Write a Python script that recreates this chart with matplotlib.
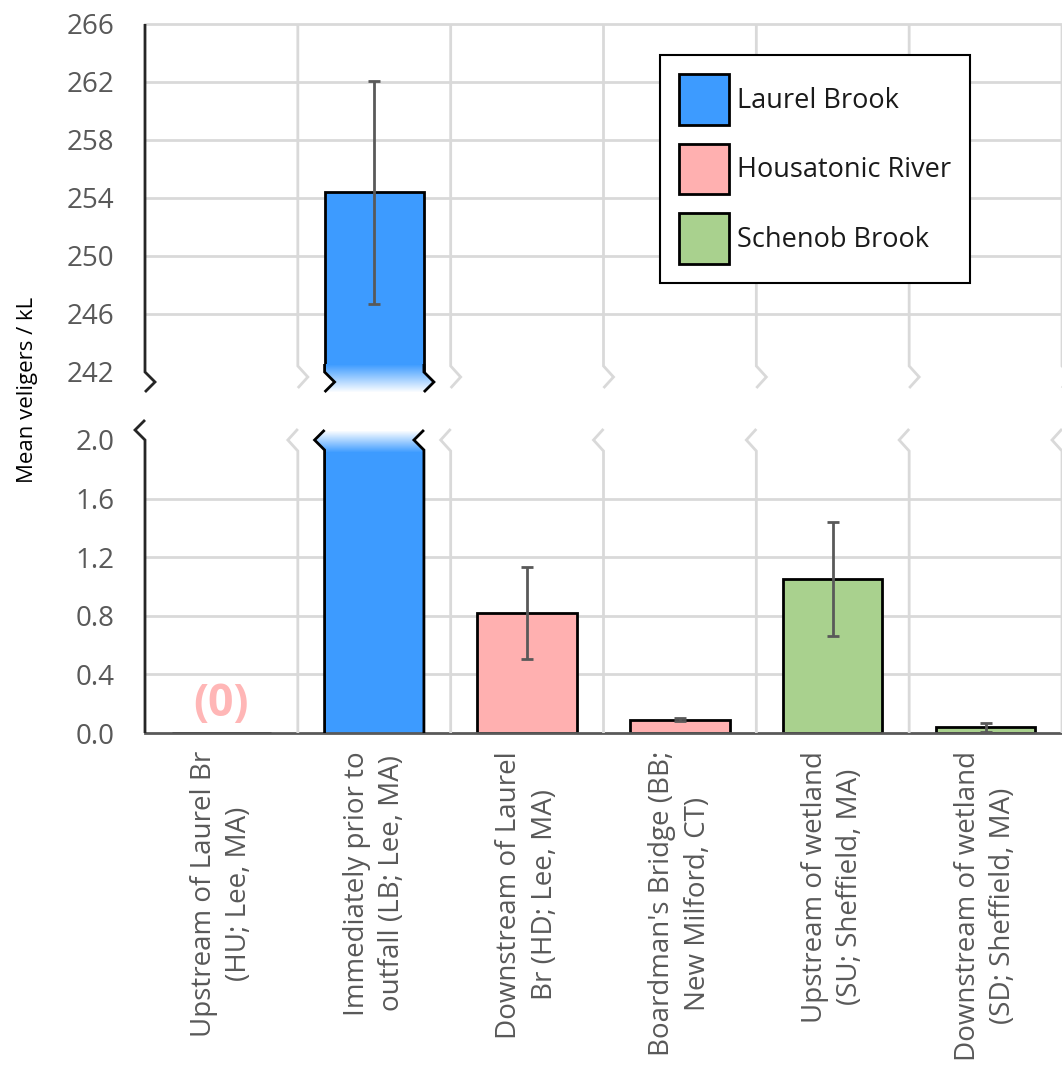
import numpy as np
import matplotlib
matplotlib.use("Agg")
import matplotlib.pyplot as plt
from matplotlib.lines import Line2D
from matplotlib.patches import Patch, Rectangle
from matplotlib.transforms import IdentityTransform
from matplotlib.colors import to_rgb

plt.rcParams['font.family'] = ['Open Sans', 'DejaVu Sans']

# sampling sites, the stream each belongs to, and mean veligers per kL (+/- SE)
sites = ["Upstream of Laurel Br\n(HU; Lee, MA)",
         "Immediately prior to\noutfall (LB; Lee, MA)",
         "Downstream of Laurel\nBr (HD; Lee, MA)",
         "Boardman's Bridge (BB;\nNew Milford, CT)",
         "Upstream of wetland\n(SU; Sheffield, MA)",
         "Downstream of wetland\n(SD; Sheffield, MA)"]
streams = ["Housatonic River", "Laurel Brook", "Housatonic River",
           "Housatonic River", "Schenob Brook", "Schenob Brook"]
means = [0.0, 254.4, 0.82, 0.09, 1.05, 0.04]
errors = [0.0, 7.7, 0.315, 0.01, 0.39, 0.03]

stream_names = ["Laurel Brook", "Housatonic River", "Schenob Brook"]
stream_colors = ["#3d9bff", "#ffb0b0", "#a9d18e"]

upper_ticks = [242, 246, 250, 254, 258, 262, 266]
lower_ticks = [0.0, 0.4, 0.8, 1.2, 1.6, 2.0]

GRID = "#d9d9d9"
TEXT = "#595959"
AXIS = "#262626"
W, H = 1062, 1068

fig = plt.figure(figsize=(W / 100, H / 100), dpi=100)
ax_top = fig.add_axes([145 / W, 1 - 372 / H, (W - 145) / W, 348 / H])
ax_bot = fig.add_axes([145 / W, 1 - 733 / H, (W - 145) / W, 293 / H])

x = np.arange(len(sites))
means = np.array(means)
errors = np.array(errors)
cmap = dict(zip(stream_names, stream_colors))
colors = [cmap[s] for s in streams]
has_err = errors > 0
bar_w = 0.65
broken = means > lower_ticks[-1]

for ax, ticks in ((ax_top, upper_ticks), (ax_bot, lower_ticks)):
    if ax is ax_bot:
        lw = np.where(broken, 0, 2)   # broken bar gets hand-drawn edges
        grid_at = ticks[1:-1]
        fmt = "{:.1f}"
    else:
        lw = 2
        grid_at = ticks[1:]
        fmt = "{:d}"
    ax.bar(x, means, bar_w, color=colors, edgecolor="black", linewidth=lw, zorder=2)
    ax.errorbar(x[has_err], means[has_err], yerr=errors[has_err], fmt="none",
                ecolor=TEXT, elinewidth=2, capsize=4.5, capthick=2, zorder=3)
    for t in grid_at:
        ax.axhline(t, color=GRID, lw=2, zorder=0, clip_on=False)
    ax.set_xlim(-0.5, len(sites) - 0.5)
    ax.set_ylim(ticks[0], ticks[-1])
    ax.set_yticks(ticks, [fmt.format(t) for t in ticks])
    ax.tick_params(axis="y", length=0, pad=22, labelsize=20, labelcolor=TEXT)
    for s in ax.spines.values():
        s.set_visible(False)

ax_top.set_xticks([])
ax_bot.spines["bottom"].set_visible(True)
ax_bot.spines["bottom"].set_color(TEXT)
ax_bot.spines["bottom"].set_linewidth(2)
ax_bot.spines["bottom"].set_zorder(4)
ax_bot.set_xticks(x, sites, rotation=90, ha="center", va="top",
                  multialignment="center", fontsize=20, color=TEXT,
                  linespacing=1.35)
ax_bot.tick_params(axis="x", length=0, pad=13)


def to_display(ax, xv, pts):
    # pts: (data y, dx pixels, dy pixels downward)
    out = []
    for yv, dx, dy in pts:
        px, py = ax.transData.transform((xv, yv))
        out.append((px + dx, py - dy))
    return np.array(out)


def draw_path(ax, xv, pts, color, lw, zorder=3):
    xy = to_display(ax, xv, pts)
    fig.add_artist(Line2D(xy[:, 0], xy[:, 1], transform=IdentityTransform(),
                          color=color, lw=lw, zorder=zorder,
                          solid_joinstyle="miter", solid_capstyle="butt"))


lo_top, hi_top = upper_ticks[0], upper_ticks[-1]
lo_bot, hi_bot = lower_ticks[0], lower_ticks[-1]

# category separators, ending in break marks
for b in np.arange(0.5, len(sites), 1.0):
    draw_path(ax_top, b, [(hi_top, 0, 0), (lo_top, 0, -6), (lo_top, 10, 5), (lo_top, 0, 16)],
              GRID, 2, zorder=1)
    draw_path(ax_bot, b, [(lo_bot, 0, 0), (hi_bot, 0, 11), (hi_bot, -10, 0), (hi_bot, 0, -11)],
              GRID, 2, zorder=1)

# y axis with break marks
draw_path(ax_top, -0.5, [(hi_top, 0, 0), (lo_top, 0, 0), (lo_top, 10, 10), (lo_top, 0, 20)], AXIS, 2)
draw_path(ax_bot, -0.5, [(lo_bot, 0, 0), (hi_bot, 0, 0), (hi_bot, -10, -10), (hi_bot, 0, -20)], AXIS, 2)


def fade(ax, xl, xr, yv, d0, d1, color, to_white, offset):
    x0, y0 = ax.transData.transform((xl, yv))
    x1, _ = ax.transData.transform((xr, yv))
    c = np.array(to_rgb(color))
    for d in range(d0, d1):
        t = (d - d0) / (d1 - d0 - 1)
        if not to_white:
            t = 1 - t
        fc = c * (1 - t) + np.ones(3) * t
        off = offset(d + 0.5)
        fig.add_artist(Rectangle((x0 + off, y0 - d - 1), x1 - x0, 1.2,
                                 transform=IdentityTransform(), fc=fc, ec="none",
                                 antialiased=False, zorder=2))
        if off < 0 and d >= 0:
            # blank out the bar body left of the zigzag on the right edge
            fig.add_artist(Rectangle((x1 + off, y0 - d - 1), -off + 1.5, 1.2,
                                     transform=IdentityTransform(), fc="white",
                                     ec="none", antialiased=False, zorder=2))


# bars running through the break: faded ends and zigzag edges
for i in np.where(broken)[0]:
    xl, xr = x[i] - bar_w / 2, x[i] + bar_w / 2
    fade(ax_top, xl, xr, lo_top, -8, 21, colors[i], True,
         lambda d: max(0.0, 10 - abs(d - 10)))
    fade(ax_bot, xl, xr, hi_bot, -10, 13, colors[i], False,
         lambda d: -max(0.0, 10 - abs(d)))
    for xe in (xl, xr):
        draw_path(ax_top, xe, [(lo_top, 0, -8), (lo_top, 0, 0), (lo_top, 10, 10), (lo_top, 0, 20)],
                  "black", 2)
        draw_path(ax_bot, xe, [(lo_bot, 0, 0), (hi_bot, 0, 10), (hi_bot, -10, 0), (hi_bot, 0, -10)],
                  "black", 2)

# zero-count site
ax_bot.annotate("(0)", (x[0], means[0]), xytext=(0, 4), textcoords="offset points",
                ha="center", va="bottom", fontsize=32, fontweight="bold",
                color="#ffb6b6", zorder=5)

fig.text(28 / W, 1 - 390 / H, "Mean veligers / kL", rotation=90,
         ha="center", va="center", fontsize=16, color="black")

handles = [Patch(facecolor=c, edgecolor="black", linewidth=2) for c in stream_colors]
leg = fig.legend(handles, stream_names, loc="upper left",
                 bbox_to_anchor=(660 / W, 1 - 55 / H), bbox_transform=fig.transFigure,
                 borderaxespad=0, fontsize=19.5, frameon=True, fancybox=False,
                 edgecolor="black", framealpha=1, handlelength=1.85, handleheight=2.5,
                 handletextpad=0.3, labelspacing=0.7, borderpad=0.7)
leg.get_frame().set_linewidth(1.5)
leg.set_zorder(6)
for txt in leg.get_texts():
    txt.set_color("#1a1a1a")

fig.savefig("out.png", dpi=100)
